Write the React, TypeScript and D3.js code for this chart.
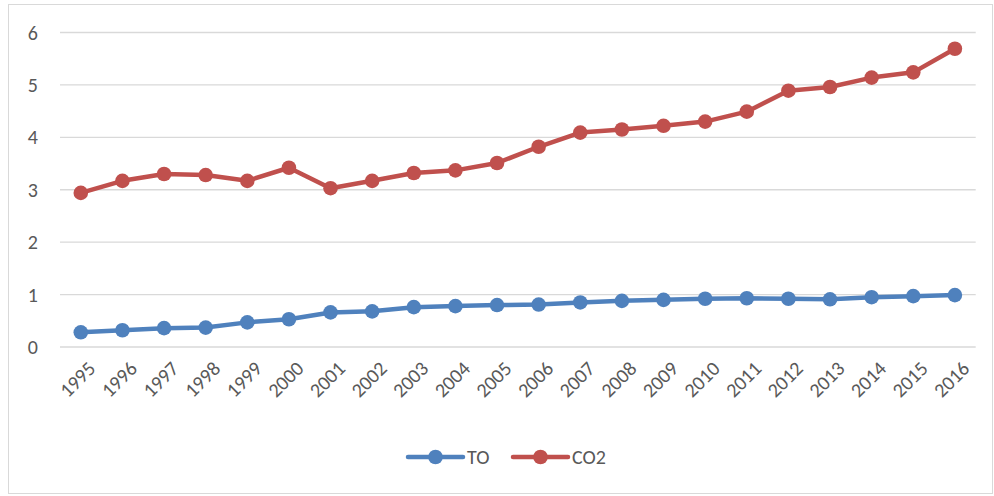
import * as d3 from "d3";

const years = [
  "1995", "1996", "1997", "1998", "1999", "2000", "2001", "2002", "2003", "2004", "2005",
  "2006", "2007", "2008", "2009", "2010", "2011", "2012", "2013", "2014", "2015", "2016",
];
const toValues = [
  0.28, 0.32, 0.36, 0.37, 0.47, 0.53, 0.66, 0.68, 0.76, 0.78, 0.8,
  0.81, 0.85, 0.88, 0.9, 0.92, 0.93, 0.92, 0.91, 0.95, 0.97, 0.99,
];
const co2Values = [
  2.94, 3.17, 3.3, 3.28, 3.17, 3.42, 3.03, 3.17, 3.32, 3.37, 3.51,
  3.82, 4.09, 4.15, 4.22, 4.3, 4.49, 4.89, 4.96, 5.14, 5.24, 5.69,
];
const yTicks = [0, 1, 2, 3, 4, 5, 6];

const series = [
  { name: "TO", color: "#4F81BD", values: toValues },
  { name: "CO2", color: "#C0504D", values: co2Values },
];

const W = 994;
const H = 496;
const font = "Calibri, Carlito, 'Liberation Sans', Arial, sans-serif";
const textColor = "#595959";

export default function App() {
  const x = d3.scalePoint<string>().domain(years).range([60, 975.7]).padding(0.5);
  const y = d3.scaleLinear().domain([0, 6]).range([347, 32.5]);

  const line = d3
    .line<number>()
    .x((_, i) => x(years[i])!)
    .y((d) => y(d));

  // legend layout
  const legendY = 457;
  const legendItems = [
    { ...series[0], x0: 408 },
    { ...series[1], x0: 513 },
  ];

  return (
    <svg
      width={W}
      height={H}
      style={{ position: "absolute", left: 0, top: 0, display: "block", background: "#fff" }}
      fontFamily={font}
    >
      <rect x={8.5} y={4.5} width={984} height={489} fill="#fff" stroke="#D9D9D9" strokeWidth={1} />

      {/* gridlines + y labels */}
      {yTicks.map((t) => (
        <g key={t}>
          <line x1={60} x2={975.7} y1={y(t)} y2={y(t)} stroke="#D9D9D9" strokeWidth={1.3} />
          <text x={38} y={y(t)} dy="0.35em" textAnchor="end" fontSize={20} fill={textColor}>
            {t}
          </text>
        </g>
      ))}

      {/* x labels */}
      {years.map((yr) => {
        const px = x(yr)! + 6;
        const py = 360;
        return (
          <text
            key={yr}
            x={px}
            y={py}
            transform={`rotate(-45 ${px} ${py})`}
            textAnchor="end"
            dy="0.7em"
            fontSize={20}
            fill={textColor}
          >
            {yr}
          </text>
        );
      })}

      {/* series */}
      {series.map((s) => (
        <g key={s.name}>
          <path
            d={line(s.values)!}
            fill="none"
            stroke={s.color}
            strokeWidth={4.5}
            strokeLinejoin="round"
            strokeLinecap="round"
          />
          {s.values.map((v, i) => (
            <circle key={i} cx={x(years[i])!} cy={y(v)} r={7.3} fill={s.color} />
          ))}
        </g>
      ))}

      {/* legend */}
      {legendItems.map((s) => (
        <g key={s.name}>
          <line
            x1={s.x0}
            x2={s.x0 + 55}
            y1={legendY}
            y2={legendY}
            stroke={s.color}
            strokeWidth={4.5}
            strokeLinecap="round"
          />
          <circle cx={s.x0 + 27.5} cy={legendY} r={7.3} fill={s.color} />
          <text x={s.x0 + 59} y={legendY} dy="0.35em" fontSize={20} fill={textColor}>
            {s.name}
          </text>
        </g>
      ))}
    </svg>
  );
}
